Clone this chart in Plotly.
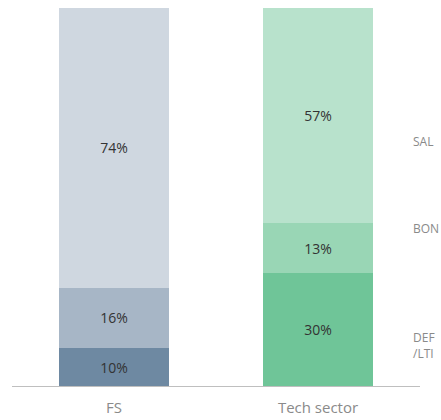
import plotly.graph_objects as go

categories = ["FS", "Tech sector"]
deferred = [10, 30]
bonus = [16, 13]
salary = [74, 57]
segment_labels = ["SAL", "BON", "DEF<br>/LTI"]
label_y = [64.8, 41.8, 10.6]

deferred_colors = ["#6e89a2", "#6fc598"]
bonus_colors = ["#a7b6c6", "#99d6b5"]
salary_colors = ["#cfd7e0", "#b8e2cc"]

fig = go.Figure()
for vals, cols in [(deferred, deferred_colors), (bonus, bonus_colors), (salary, salary_colors)]:
    fig.add_trace(go.Bar(
        x=categories, y=vals, marker=dict(color=cols, line=dict(width=0)),
        texttemplate="%{y}%", textposition="inside", insidetextanchor="middle",
        textfont=dict(color="#333333", size=14, family="Open Sans"),
        width=0.535, hoverinfo="skip",
    ))

for lab, yy in zip(segment_labels, label_y):
    fig.add_annotation(
        x=(411 - 12) / 408, xref="paper", y=yy, yref="y", text=lab,
        xanchor="left", yanchor="middle", align="left", showarrow=False,
        font=dict(color="#8a8a8a", size=12, family="Open Sans"),
    )

fig.update_layout(
    barmode="stack", showlegend=False, width=441, height=420,
    margin=dict(l=12, r=21, t=8, b=34, autoexpand=False),
    paper_bgcolor="white", plot_bgcolor="white",
    xaxis=dict(showline=True, linecolor="#bfbfbf", linewidth=1, ticks="",
               tickfont=dict(color="#8a8a8a", size=15, family="Open Sans"),
               ticklabelstandoff=8, automargin=False, showgrid=False),
    yaxis=dict(range=[0, 100], visible=False, showgrid=False, automargin=False),
)
fig.write_html("out.html")
